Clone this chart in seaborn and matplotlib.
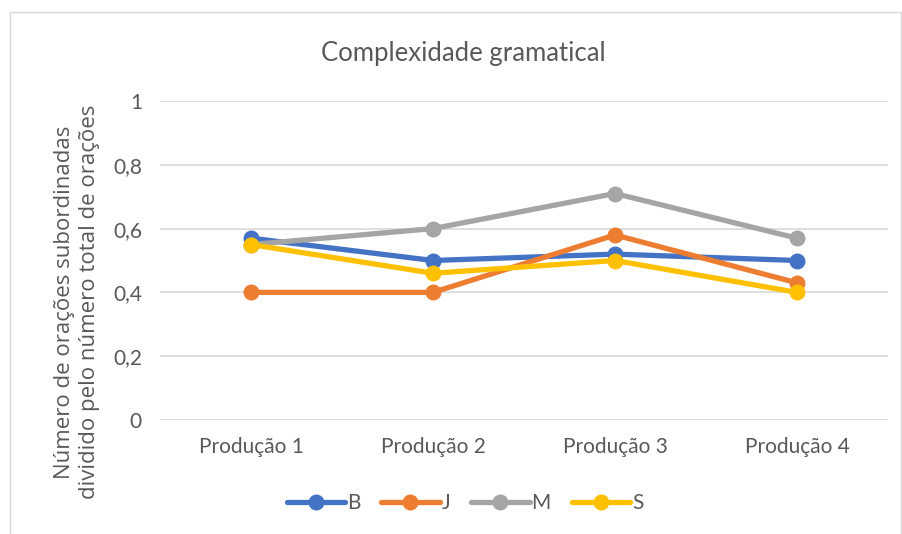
import matplotlib
matplotlib.use("Agg")
import matplotlib.pyplot as plt
import pandas as pd
import seaborn as sns
from matplotlib.patches import Rectangle

categories = ["Produção 1", "Produção 2", "Produção 3", "Produção 4"]
series_names = ["B", "J", "M", "S"]
b_values = [0.57, 0.50, 0.52, 0.50]
j_values = [0.40, 0.40, 0.58, 0.43]
m_values = [0.55, 0.60, 0.71, 0.57]
s_values = [0.55, 0.46, 0.50, 0.40]
y_ticks = [0, 0.2, 0.4, 0.6, 0.8, 1]
y_tick_labels = ["0", "0,2", "0,4", "0,6", "0,8", "1"]

colors = ["#4472C4", "#ED7D31", "#A5A5A5", "#FFC000"]
text_color = "#595959"

df = pd.DataFrame({"Produção": categories, "B": b_values, "J": j_values,
                   "M": m_values, "S": s_values})
long_df = df.melt(id_vars="Produção", var_name="Série", value_name="Valor")

sns.set_style("white")
plt.rcParams["font.family"] = ["Lato", "DejaVu Sans"]

fig = plt.figure(figsize=(9.02, 5.34), dpi=100)
ax = fig.add_axes([160 / 902, 1 - 420 / 534, 728 / 902, 319 / 534])

# outer chart border
fig.patches.append(Rectangle((10 / 902, -0.05), 0.999 - 10 / 902, 1.05 - 12 / 534,
                             transform=fig.transFigure, fill=False,
                             edgecolor="#D9D9D9", linewidth=1))

sns.lineplot(data=long_df, x="Produção", y="Valor", hue="Série",
             hue_order=series_names, palette=colors, marker="o",
             markersize=11.5, markeredgewidth=0, linewidth=3.8, sort=False,
             ax=ax)

ax.set_xlim(-0.5, 3.5)
ax.set_ylim(0, 1)
ax.set_yticks(y_ticks)
ax.set_yticklabels(y_tick_labels)
ax.yaxis.grid(True, color="#D9D9D9", linewidth=1.2)
ax.set_axisbelow(True)
for sp in ax.spines.values():
    sp.set_visible(False)
ax.tick_params(axis="both", length=0, labelsize=15, colors=text_color)
ax.tick_params(axis="y", pad=13)
ax.tick_params(axis="x", pad=12)
ax.set_xlabel("")
ax.set_ylabel("")

fig.text(463 / 902, 1 - 53 / 534, "Complexidade gramatical", ha="center",
         va="center", fontsize=18.5, color=text_color)
fig.text(77 / 902, 1 - 302 / 534,
         "Número de orações subordinadas\ndividido pelo número total de orações",
         rotation=90, ha="center", va="center", fontsize=16, color=text_color,
         family=["Open Sans", "DejaVu Sans"], linespacing=1.25)

handles, labels = ax.get_legend_handles_labels()
ax.legend(handles, labels, loc="center", bbox_to_anchor=(465 / 902, 1 - 503 / 534),
          bbox_transform=fig.transFigure, ncol=4, frameon=False, fontsize=15,
          handlelength=2.8, handletextpad=0.1, columnspacing=1.0,
          labelcolor=text_color)

fig.savefig("out.png", dpi=100)
